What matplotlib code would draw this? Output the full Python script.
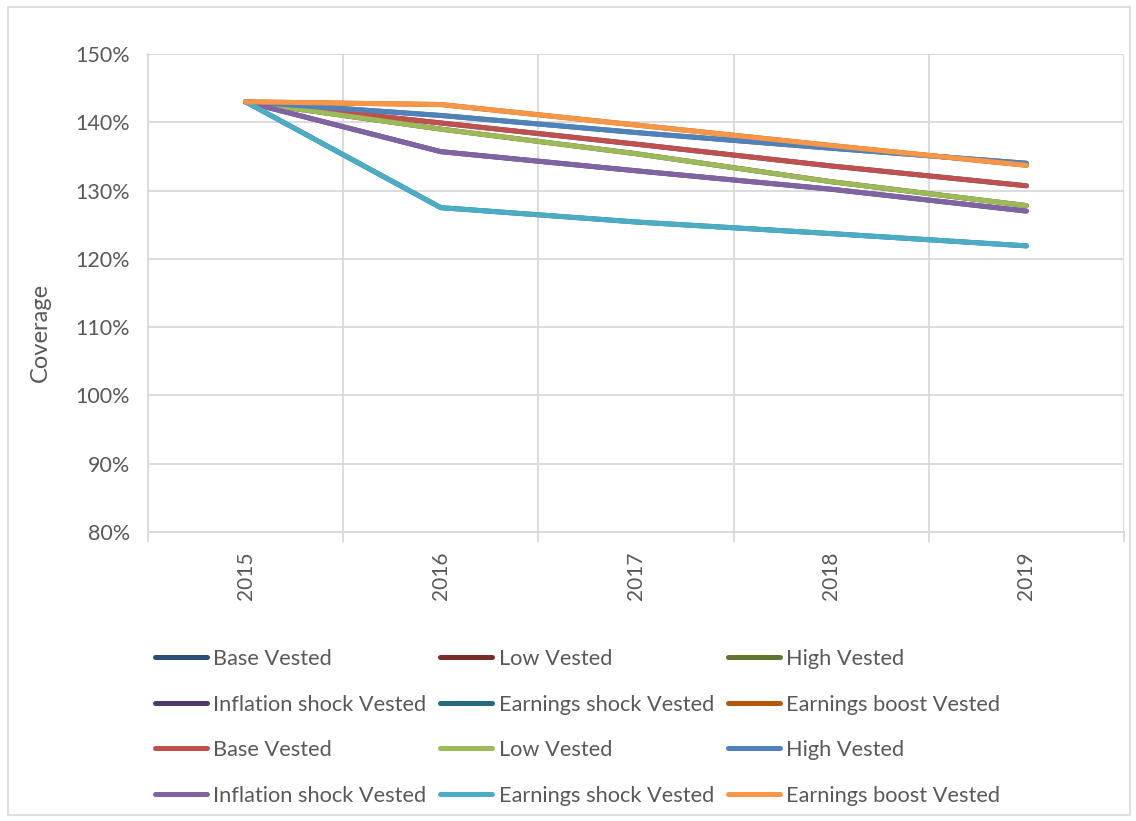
import matplotlib
matplotlib.use("Agg")
import matplotlib.pyplot as plt
from matplotlib.patches import Rectangle
from matplotlib.ticker import FuncFormatter, MultipleLocator

years = ["2015", "2016", "2017", "2018", "2019"]

labels = ["Base Vested", "Low Vested", "High Vested", "Inflation shock Vested",
          "Earnings shock Vested", "Earnings boost Vested"]

# values in %
base = [143.0, 139.9, 136.8, 133.6, 130.7]
low = [143.0, 139.0, 135.4, 131.3, 127.8]
high = [143.0, 141.0, 138.5, 136.2, 134.0]
inflation = [143.0, 135.7, 132.9, 130.2, 127.0]
earn_shock = [143.0, 127.5, 125.4, 123.7, 121.9]
earn_boost = [143.0, 142.6, 139.6, 136.6, 133.7]

# first group (dark) shares the values of the second group
series_dark = [base, low, high, inflation, earn_shock, earn_boost]
series_light = [base, low, high, inflation, earn_shock, earn_boost]

dark_colors = ["#2C4D75", "#772C2A", "#5F7530", "#4D3B62", "#276A7C", "#B65708"]
light_colors = ["#C0504D", "#9BBB59", "#4F81BD", "#8064A2", "#4BACC6", "#F79646"]

plt.rcParams['font.family'] = ['Lato', 'DejaVu Sans']
text_color = "#595959"
grid_color = "#D9D9D9"

W, H = 1136, 821
fig = plt.figure(figsize=(W / 100, H / 100), dpi=100)
ax = fig.add_axes([148 / W, 1 - 532 / H, (1124 - 148) / W, (532 - 54) / H])

x = list(range(len(years)))
handles = []
for vals, c, lab in zip(series_dark, dark_colors, labels):
    h, = ax.plot(x, vals, color=c, lw=3.6, solid_capstyle='round',
                 solid_joinstyle='round', label=lab, zorder=3)
    handles.append(h)
for vals, c, lab in zip(series_light, light_colors, labels):
    h, = ax.plot(x, vals, color=c, lw=3.6, solid_capstyle='round',
                 solid_joinstyle='round', label=lab, zorder=4)
    handles.append(h)

ax.set_xlim(-0.5, len(years) - 0.5)
ax.set_ylim(80, 150)
ax.yaxis.set_major_locator(MultipleLocator(10))
ax.yaxis.set_major_formatter(FuncFormatter(lambda v, p: f"{v:.0f}%"))
ax.set_xticks(x)
ax.set_xticklabels(years, rotation=90)
ax.set_xticks([i - 0.5 for i in range(len(years) + 1)], minor=True)

ax.grid(axis='y', color=grid_color, lw=1.3, zorder=0)
ax.grid(axis='x', which='minor', color=grid_color, lw=1.3, zorder=0)
ax.grid(axis='x', which='major', visible=False)
ax.set_axisbelow(True)

for s in ['top', 'right']:
    ax.spines[s].set_visible(False)
ax.spines['left'].set_color(grid_color)
ax.spines['left'].set_linewidth(1.3)
ax.spines['bottom'].set_color(grid_color)
ax.spines['bottom'].set_linewidth(1.3)

ax.tick_params(axis='y', length=0, pad=13, labelsize=15.5, labelcolor=text_color)
ax.tick_params(axis='x', which='major', length=0, pad=14, labelsize=15, labelcolor=text_color)
ax.tick_params(axis='x', which='minor', length=7, width=1.3, color=grid_color)

fig.text(40 / W, 1 - 332 / H, "Coverage", rotation=90, ha='center', va='center',
         fontsize=17, color=text_color)

order = [0, 3, 6, 9, 1, 4, 7, 10, 2, 5, 8, 11]
leg = fig.legend([handles[i] for i in order], [handles[i].get_label() for i in order],
                 ncol=3, loc='upper left', bbox_to_anchor=(155 / W, 1 - 649 / H),
                 frameon=False, fontsize=15.7, labelcolor=text_color,
                 handlelength=2.39, handletextpad=0.28, columnspacing=0.64,
                 labelspacing=1.17, borderaxespad=0, borderpad=0)

fig.add_artist(Rectangle((8 / W, 6 / H), (W - 14) / W, (H - 13) / H,
                         transform=fig.transFigure, fill=False,
                         edgecolor=grid_color, lw=1.2))

fig.savefig("out.png", dpi=100)
